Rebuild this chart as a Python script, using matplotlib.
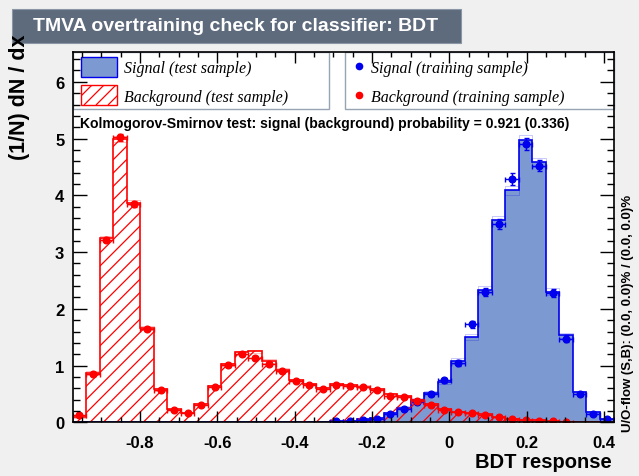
import numpy as np
import matplotlib
matplotlib.use("Agg")
import matplotlib.pyplot as plt
from matplotlib.patches import Rectangle
from matplotlib.lines import Line2D
from matplotlib.collections import LineCollection
from matplotlib.ticker import MultipleLocator, FuncFormatter

plt.rcParams['font.family'] = ['Liberation Sans', 'DejaVu Sans']
plt.rcParams['axes.unicode_minus'] = False

# ---------------- data ----------------
x_min, x_max = -0.974, 0.425
n_bins = 40

bg_test = [0.10, 0.87, 3.25, 4.99, 3.87, 1.66, 0.58, 0.23, 0.17, 0.32,
           0.64, 1.02, 1.23, 1.25, 1.08, 0.92, 0.75, 0.67, 0.61, 0.67,
           0.66, 0.63, 0.59, 0.49, 0.46, 0.39, 0.32, 0.24, 0.19, 0.16,
           0.14, 0.09, 0.065, 0.047, 0.04, 0.015, 0.01, 0.0, 0.0, 0.0]
bg_test_err = [0.02, 0.03, 0.04, 0.05, 0.04, 0.03, 0.02, 0.01, 0.01, 0.02,
               0.02, 0.03, 0.03, 0.03, 0.03, 0.03, 0.02, 0.02, 0.02, 0.02,
               0.02, 0.02, 0.02, 0.02, 0.02, 0.02, 0.02, 0.01, 0.01, 0.01,
               0.01, 0.01, 0.01, 0.01, 0.01, 0.01, 0.01, 0.0, 0.0, 0.0]
bg_train = [0.12, 0.85, 3.22, 5.02, 3.85, 1.65, 0.57, 0.22, 0.16, 0.30,
            0.62, 1.01, 1.20, 1.14, 1.03, 0.90, 0.73, 0.66, 0.59, 0.66,
            0.64, 0.62, 0.57, 0.47, 0.45, 0.37, 0.30, 0.22, 0.18, 0.16,
            0.13, 0.085, 0.055, 0.04, 0.03, 0.015, 0.01, 0.0, 0.0, 0.0]
bg_train_err = [0.02, 0.03, 0.05, 0.06, 0.05, 0.03, 0.02, 0.01, 0.01, 0.02,
                0.02, 0.03, 0.03, 0.03, 0.03, 0.03, 0.02, 0.02, 0.02, 0.02,
                0.02, 0.02, 0.02, 0.02, 0.02, 0.02, 0.02, 0.01, 0.01, 0.01,
                0.01, 0.01, 0.01, 0.01, 0.01, 0.01, 0.01, 0.0, 0.0, 0.0]

sig_test = [0.0, 0.0, 0.0, 0.0, 0.0, 0.0, 0.0, 0.0, 0.0, 0.0,
            0.0, 0.0, 0.0, 0.01, 0.01, 0.005, 0.0, 0.01, 0.01, 0.02,
            0.03, 0.06, 0.08, 0.16, 0.26, 0.39, 0.52, 0.71, 1.08, 1.50,
            2.34, 3.57, 4.09, 4.98, 4.58, 2.30, 1.53, 0.53, 0.18, 0.06]
sig_test_err = [0.0, 0.0, 0.0, 0.0, 0.0, 0.0, 0.0, 0.0, 0.0, 0.0,
                0.0, 0.0, 0.0, 0.01, 0.01, 0.01, 0.0, 0.01, 0.01, 0.01,
                0.01, 0.01, 0.02, 0.02, 0.03, 0.03, 0.03, 0.04, 0.05, 0.05,
                0.06, 0.07, 0.08, 0.08, 0.08, 0.06, 0.05, 0.03, 0.02, 0.01]
sig_train = [0.0, 0.0, 0.0, 0.0, 0.0, 0.0, 0.0, 0.0, 0.0, 0.0,
             0.0, 0.0, 0.0, 0.0, 0.0, 0.0, 0.0, 0.0, 0.0, 0.02,
             0.02, 0.035, 0.05, 0.14, 0.24, 0.36, 0.50, 0.74, 1.04, 1.73,
             2.30, 3.49, 4.29, 4.90, 4.52, 2.28, 1.47, 0.50, 0.15, 0.05]
sig_train_err = [0.0, 0.0, 0.0, 0.0, 0.0, 0.0, 0.0, 0.0, 0.0, 0.0,
                 0.0, 0.0, 0.0, 0.0, 0.0, 0.0, 0.0, 0.0, 0.0, 0.01,
                 0.01, 0.01, 0.02, 0.02, 0.03, 0.03, 0.03, 0.04, 0.05, 0.06,
                 0.07, 0.09, 0.1, 0.11, 0.1, 0.07, 0.06, 0.03, 0.02, 0.01]

title = "TMVA overtraining check for classifier: BDT"
ks_text = "Kolmogorov-Smirnov test: signal (background) probability = 0.921 (0.336)"
flow_text = "U/O-flow (S,B): (0.0, 0.0)% / (0.0, 0.0)%"
legend_labels = ["Signal (test sample)", "Background (test sample)",
                 "Signal (training sample)", "Background (training sample)"]

# ---------------- styling ----------------
W, H = 639, 477
SIG_FILL = '#7d99d1'
SIG_LINE = '#0000ee'
BG_LINE = '#ff0000'
BG_COLOR = '#f0f0f0'
HATCH_STEP = 13.3  # px between hatch lines


def fx(px):
    return px / W


def fy(py):
    return 1 - py / H


def hatch_segments(w_px, h_px, step, phase=0.0):
    """45-degree hatch lines covering a w_px x h_px box, in fractions of the box."""
    segs = []
    k = -int(h_px / step) - 2
    while k * step + phase < w_px + step:
        x0 = k * step + phase
        segs.append([(x0 / w_px, 0.0), ((x0 + h_px) / w_px, 1.0)])
        k += 1
    return segs


fig = plt.figure(figsize=(W / 100, H / 100), dpi=100, facecolor=BG_COLOR)
AX_L, AX_R, AX_T, AX_B = 72.7, 613.5, 53.3, 423.3
ax = fig.add_axes([fx(AX_L), fy(AX_B), fx(AX_R) - fx(AX_L), fy(AX_T) - fy(AX_B)])
ax.set_facecolor('white')

edges = np.linspace(x_min, x_max, n_bins + 1)
centers = 0.5 * (edges[:-1] + edges[1:])
width = edges[1] - edges[0]

sig_test_a = np.array(sig_test)
bg_test_a = np.array(bg_test)

# signal test histogram (filled)
ax.stairs(sig_test_a, edges, fill=True, facecolor=SIG_FILL, edgecolor='none', zorder=1)
ax.bar(centers, 2 * np.array(sig_test_err), bottom=sig_test_a - np.array(sig_test_err),
       width=width, facecolor='none', edgecolor=SIG_LINE, linewidth=0.5, alpha=0.3, zorder=2)
ax.stairs(sig_test_a, edges, color=SIG_LINE, linewidth=1.2, zorder=2)

# background test histogram (hatched, clipped diagonal lines)
bg_shape = ax.stairs(bg_test_a, edges, fill=True, facecolor='none', edgecolor='none', zorder=3)
hatch = LineCollection(hatch_segments(AX_R - AX_L, AX_B - AX_T, HATCH_STEP, 4.0),
                       colors=BG_LINE, linewidths=0.9, transform=ax.transAxes, zorder=3)
ax.add_collection(hatch)
hatch.set_clip_path(bg_shape)
ax.bar(centers, 2 * np.array(bg_test_err), bottom=bg_test_a - np.array(bg_test_err),
       width=width, facecolor='none', edgecolor=BG_LINE, linewidth=0.5, alpha=0.35, zorder=3)
ax.stairs(bg_test_a, edges, color=BG_LINE, linewidth=1.2, zorder=3)

# training points
for vals, errs, col in [(sig_train, sig_train_err, SIG_LINE), (bg_train, bg_train_err, BG_LINE)]:
    v = np.array(vals)
    e = np.array(errs)
    m = v > 0
    ax.errorbar(centers[m], v[m], xerr=width / 2, yerr=e[m], fmt='o', color=col,
                markersize=4.8, elinewidth=1.0, capsize=1.8, capthick=1.0, zorder=5)

ax.set_xlim(x_min, x_max)
ax.set_ylim(0, 6.52)

ax.xaxis.set_major_locator(MultipleLocator(0.2))
ax.xaxis.set_minor_locator(MultipleLocator(0.05))
ax.yaxis.set_major_locator(MultipleLocator(1))
ax.yaxis.set_minor_locator(MultipleLocator(0.2))
ax.xaxis.set_major_formatter(FuncFormatter(lambda v, p: f"{round(v, 2) + 0:g}"))
ax.yaxis.set_major_formatter(FuncFormatter(lambda v, p: f"{int(round(v))}"))

ax.tick_params(axis='x', which='major', direction='in', top=True, bottom=True,
               length=8, width=1.0, pad=9, labelsize=12)
ax.tick_params(axis='x', which='minor', direction='in', top=True, bottom=True,
               length=3.8, width=1.0)
ax.tick_params(axis='y', which='major', direction='in', left=True, right=True,
               length=10, width=1.0, pad=6, labelsize=12)
ax.tick_params(axis='y', which='minor', direction='in', left=True, right=True,
               length=5, width=1.0)
for lab in ax.get_xticklabels() + ax.get_yticklabels():
    lab.set_fontweight('bold')
for sp in ax.spines.values():
    sp.set_linewidth(1.2)
    sp.set_zorder(20)
ax.xaxis.set_zorder(20)
ax.yaxis.set_zorder(20)

# axis titles
fig.text(fx(612), fy(463), "BDT response", ha='right', va='center',
         fontsize=14.5, fontweight='bold')
fig.text(fx(20), fy(34), "(1/N) dN / dx", ha='center', va='top', rotation=90,
         fontsize=15.5, fontweight='bold')

# title box
fig.patches.append(Rectangle((fx(12), fy(43.5)), fx(461) - fx(12), fy(10) - fy(43.5),
                             transform=fig.transFigure, facecolor='#5e6b7d',
                             edgecolor='#8a95a5', linewidth=0.8, zorder=0))
fig.text(fx(236), fy(26.5), title, ha='center', va='center', color='white',
         fontsize=14, fontweight='bold')

# legend boxes (inside the axes, under the tick marks)
box_edge = '#98a4b4'
for x0, x1 in [(AX_L, 328.5), (345, AX_R)]:
    ax.add_patch(Rectangle((fx(x0), fy(110)), fx(x1) - fx(x0), fy(AX_T) - fy(110),
                           transform=fig.transFigure, facecolor='white',
                           edgecolor=box_edge, linewidth=1.0, zorder=10, clip_on=False))
ax.add_patch(Rectangle((fx(81), fy(77.5)), fx(116.5) - fx(81), fy(57.5) - fy(77.5),
                       transform=fig.transFigure, facecolor=SIG_FILL,
                       edgecolor=SIG_LINE, linewidth=1.0, zorder=11, clip_on=False))
bg_leg = Rectangle((fx(81), fy(106)), fx(116.5) - fx(81), fy(86) - fy(106),
                   transform=fig.transFigure, facecolor='white',
                   edgecolor=BG_LINE, linewidth=1.0, zorder=11, clip_on=False)
ax.add_patch(bg_leg)
leg_w, leg_h = 116.5 - 81, 106 - 86
leg_segs = [[(fx(81) + a * (fx(116.5) - fx(81)), fy(106) + b * (fy(86) - fy(106)))
             for a, b in s] for s in hatch_segments(leg_w, leg_h, 12.0, 3.0)]
leg_hatch = LineCollection(leg_segs, colors=BG_LINE, linewidths=0.9,
                           transform=fig.transFigure, zorder=11.5)
ax.add_collection(leg_hatch, autolim=False)
leg_hatch.set_clip_path(bg_leg)

for yy, col in [(67, SIG_LINE), (95.5, BG_LINE)]:
    ax.add_line(Line2D([fx(358.5)], [fy(yy)], marker='o', markersize=4.5, color=col,
                       transform=fig.transFigure, zorder=12, clip_on=False))

leg_font = dict(family='Liberation Serif', style='italic', fontsize=11.5, va='center',
                ha='left', zorder=5)
fig.text(fx(124), fy(69.5), legend_labels[0], **leg_font)
fig.text(fx(124), fy(98), legend_labels[1], **leg_font)
fig.text(fx(371.5), fy(69.5), legend_labels[2], **leg_font)
fig.text(fx(371.5), fy(98), legend_labels[3], **leg_font)

# KS text
fig.text(fx(80), fy(124), ks_text, ha='left', va='center', fontsize=10.1,
         fontweight='bold', zorder=6)

# under/overflow text
fig.text(fx(628), fy(432), flow_text, ha='center', va='bottom', rotation=90,
         fontsize=9.5, fontweight='bold')

ax.set_xlim(x_min, x_max)
ax.set_ylim(0, 6.52)

fig.savefig("out.png", dpi=100, facecolor=BG_COLOR)
